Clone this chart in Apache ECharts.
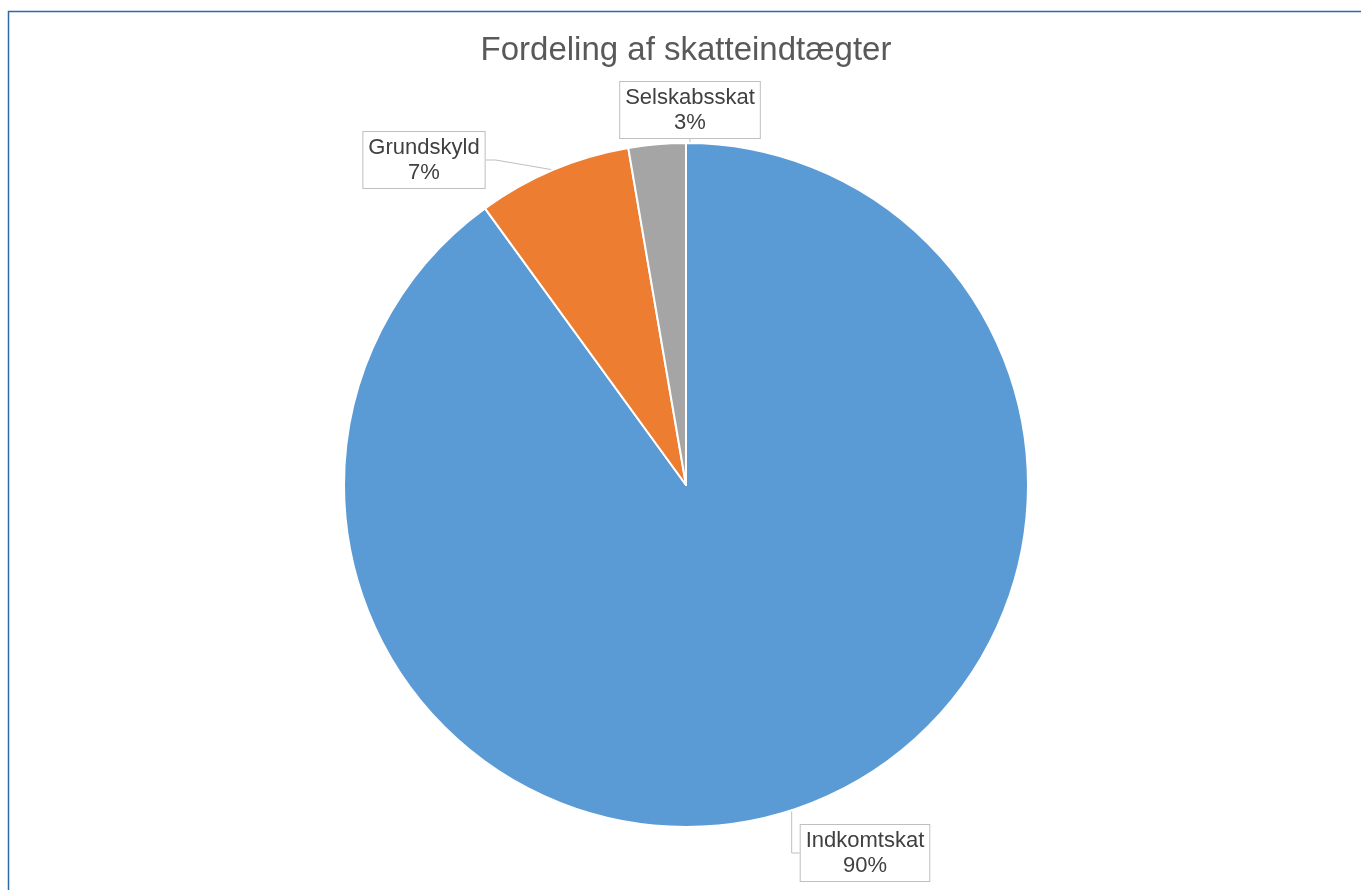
<!DOCTYPE html>
<html>
<head>
<meta charset="utf-8">
<script src="https://cdn.jsdelivr.net/npm/echarts@6/dist/echarts.min.js"></script>
<style>
html,body{margin:0;padding:0;background:#fff;}
#c{width:1361px;height:890px;}
</style>
</head>
<body>
<div id="c"></div>
<script>
const titleText = 'Fordeling af skatteindtægter';
const categories = ['Indkomtskat', 'Grundskyld', 'Selskabsskat'];
const values = [90.0, 7.3, 2.7];
const colors = ['#5b9bd5', '#ed7d31', '#a5a5a5'];
// label box centres (layout, not data)
const labelCenters = [[865, 853], [424, 160], [690, 110]];

const chart = echarts.init(document.getElementById('c'), null, {renderer: 'canvas'});
chart.setOption({
  backgroundColor: '#ffffff',
  animation: false,
  title: {
    text: titleText,
    left: 681,
    textAlign: 'center',
    top: 29,
    textStyle: {fontFamily: 'Liberation Sans, Arial, sans-serif', fontSize: 33, fontWeight: 'normal', color: '#595959'}
  },
  graphic: [{
    type: 'rect',
    shape: {x: 8.5, y: 11.5, width: 1400, height: 1000},
    style: {fill: 'none', stroke: '#2e6aa6', lineWidth: 1.5},
    silent: true, z: 100
  }],
  series: [{
    type: 'pie',
    center: [686, 485],
    radius: [0, 342],
    startAngle: 90,
    clockwise: true,
    percentPrecision: 0,
    data: categories.map((n, i) => ({name: n, value: values[i], itemStyle: {color: colors[i]}})),
    itemStyle: {borderColor: '#ffffff', borderWidth: 2},
    label: {
      show: true,
      formatter: '{b}\n{d}%',
      fontFamily: 'Liberation Sans, Arial, sans-serif',
      fontSize: 22,
      lineHeight: 25,
      color: '#404040',
      align: 'center',
      backgroundColor: '#ffffff',
      borderColor: '#bfbfbf',
      borderWidth: 1,
      padding: [3, 5]
    },
    labelLine: {show: true, lineStyle: {color: '#bfbfbf', width: 1}, length: 10, length2: 10},
    labelLayout: function (p) {
      const c = labelCenters[p.dataIndex];
      return {x: c[0], y: c[1], align: 'center', verticalAlign: 'middle'};
    },
    emphasis: {disabled: true}
  }]
});
</script>
</body>
</html>
